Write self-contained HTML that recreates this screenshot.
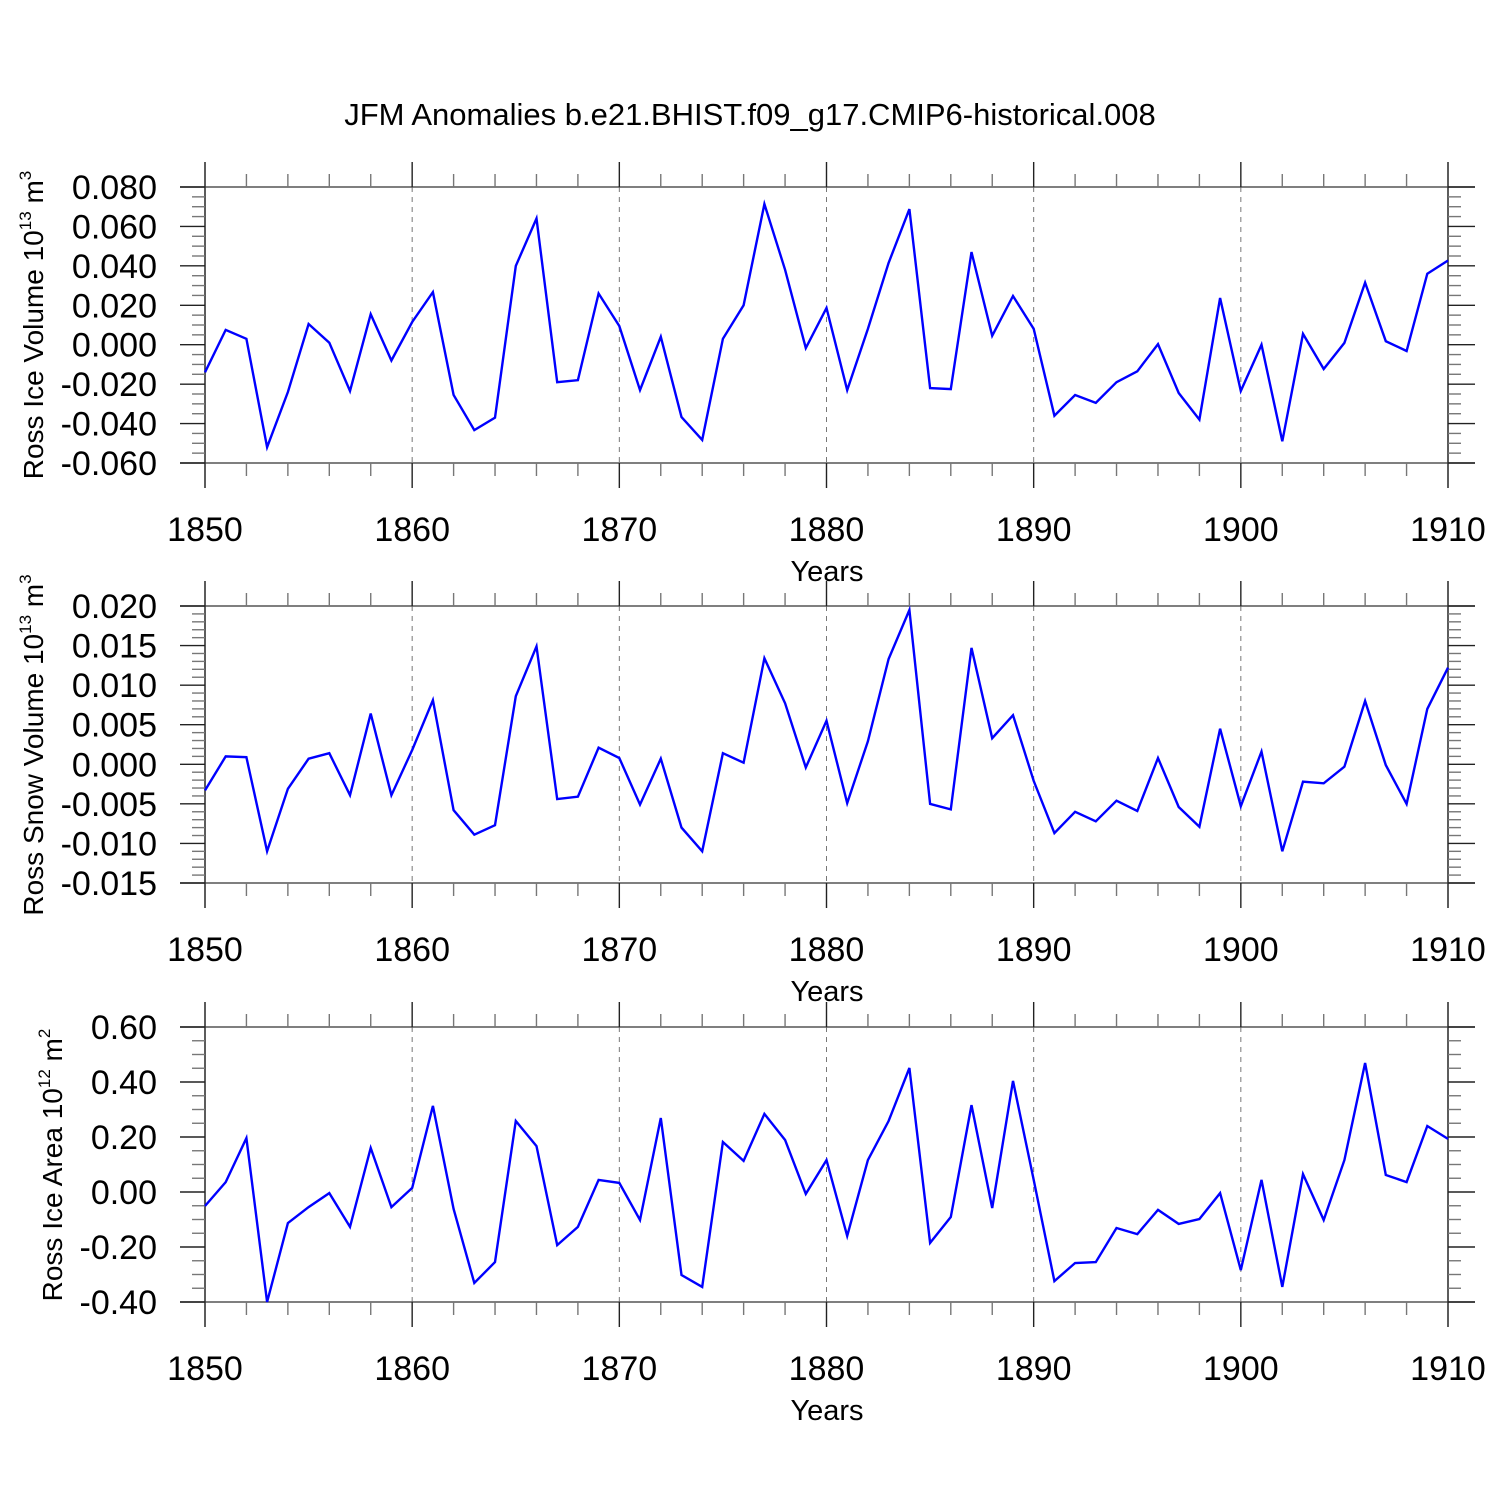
<!DOCTYPE html>
<html><head><meta charset="utf-8"><style>
body{margin:0;background:#fff}
svg{display:block}
text{font-family:"Liberation Sans",sans-serif;fill:#000}
</style></head><body>
<svg id="chart" width="1500" height="1500" viewBox="0 0 1500 1500" xmlns="http://www.w3.org/2000/svg">
<text x="750" y="125" font-size="31" text-anchor="middle">JFM Anomalies b.e21.BHIST.f09_g17.CMIP6-historical.008</text>
</svg>
<script>
const years = [];
for (let y = 1850; y <= 1910; y++) years.push(y);
const iceVolume = [-0.014,0.0075,0.003,-0.052,-0.024,0.0105,0.001,-0.0235,0.0155,-0.008,0.0115,0.0267,-0.0255,-0.0433,-0.037,0.040,0.064,-0.019,-0.018,0.026,0.0095,-0.023,0.004,-0.0367,-0.0483,0.003,0.020,0.0714,0.038,-0.0017,0.0186,-0.023,0.008,0.0415,0.0688,-0.022,-0.0225,0.047,0.0045,0.0247,0.008,-0.036,-0.0255,-0.0295,-0.019,-0.0135,0.0003,-0.0245,-0.038,0.0237,-0.0235,0,-0.049,0.0055,-0.0123,0.0009,0.0315,0.0018,-0.0032,0.036,0.0427];
const snowVolume = [-0.0033,0.0010,0.0009,-0.011,-0.0031,0.0007,0.0014,-0.0039,0.0064,-0.0039,0.0018,0.0081,-0.0058,-0.0089,-0.0077,0.0086,0.0149,-0.0044,-0.0041,0.0021,0.0008,-0.0051,0.0007,-0.008,-0.011,0.0014,0.0002,0.0134,0.0077,-0.0004,0.0055,-0.0049,0.0029,0.0133,0.0195,-0.005,-0.0057,0.0147,0.0033,0.0062,-0.0021,-0.0087,-0.006,-0.0072,-0.0046,-0.0059,0.0008,-0.0054,-0.0079,0.0045,-0.0053,0.0016,-0.011,-0.0022,-0.0024,-0.0003,0.008,-0.0001,-0.005,0.007,0.0122];
const iceArea = [-0.051,0.036,0.196,-0.40,-0.113,-0.055,-0.004,-0.127,0.16,-0.055,0.015,0.313,-0.062,-0.331,-0.255,0.258,0.167,-0.193,-0.127,0.044,0.033,-0.102,0.269,-0.302,-0.345,0.182,0.113,0.284,0.189,-0.007,0.116,-0.16,0.116,0.258,0.451,-0.185,-0.091,0.316,-0.058,0.404,0.044,-0.324,-0.258,-0.255,-0.131,-0.153,-0.065,-0.116,-0.098,-0.004,-0.284,0.044,-0.345,0.065,-0.102,0.116,0.469,0.062,0.036,0.240,0.193];
const xTickLabels = ["1850","1860","1870","1880","1890","1900","1910"];
const iceVolTicks = ["0.080","0.060","0.040","0.020","0.000","-0.020","-0.040","-0.060"];
const snowVolTicks = ["0.020","0.015","0.010","0.005","0.000","-0.005","-0.010","-0.015"];
const areaTicks = ["0.60","0.40","0.20","0.00","-0.20","-0.40"];

const NS = "http://www.w3.org/2000/svg";
const svg = document.getElementById('chart');
function mk(tag, attrs, parent){const e=document.createElementNS(NS,tag);for(const k in attrs)e.setAttribute(k,attrs[k]);(parent||svg).appendChild(e);return e;}

const X0=205, X1=1448, FL=180, FR=1475;
function xScale(yr){return X0+(yr-1850)*(X1-X0)/60;}

function panel(key, top, bottom, ticks, minorPer, values, titleParts, titleY, titleX){
  const g = mk('g',{});
  
  
  const vmax=parseFloat(ticks[0]), vmin=parseFloat(ticks[ticks.length-1]);
  const yScale=v=>top+(vmax-v)*(bottom-top)/(vmax-vmin);
  for(let yr=1860; yr<=1900; yr+=10){
    mk('line',{x1:xScale(yr),x2:xScale(yr),y1:top,y2:bottom,stroke:'#777','stroke-width':1,'stroke-dasharray':'5,5'},g);
  }
  mk('line',{x1:FL,x2:FR,y1:top,y2:top,stroke:'#555','stroke-width':1.6},g);
  mk('line',{x1:FL,x2:FR,y1:bottom,y2:bottom,stroke:'#555','stroke-width':1.6},g);
  mk('line',{x1:X0,x2:X0,y1:top-25,y2:bottom+25,stroke:'#333','stroke-width':1.6},g);
  mk('line',{x1:X1,x2:X1,y1:top-25,y2:bottom+25,stroke:'#333','stroke-width':1.6},g);
  for(let yr=1852; yr<1910; yr+=2){
    const major = yr%10===0;
    const L = major?25:13;
    const x=xScale(yr);
    mk('line',{x1:x,x2:x,y1:top-L,y2:top,stroke:major?'#222':'#777','stroke-width':1.4},g);
    mk('line',{x1:x,x2:x,y1:bottom,y2:bottom+L,stroke:major?'#222':'#777','stroke-width':1.4},g);
  }
  const step=(vmax-vmin)/(ticks.length-1);
  for(let i=0;i<ticks.length;i++){
    const v=vmax-i*step, y=yScale(v);
    mk('line',{x1:FL,x2:X0,y1:y,y2:y,stroke:'#222','stroke-width':1.4},g);
    mk('line',{x1:X1,x2:FR,y1:y,y2:y,stroke:'#222','stroke-width':1.4},g);
    const t=mk('text',{x:157,y:y+12,'font-size':34,'text-anchor':'end'},g);
    t.textContent=ticks[i];
    
    
    if(i<ticks.length-1){
      for(let m=1;m<=minorPer;m++){
        const ym=yScale(v-step*m/(minorPer+1));
        mk('line',{x1:X0-13,x2:X0,y1:ym,y2:ym,stroke:'#777','stroke-width':1.4},g);
        mk('line',{x1:X1,x2:X1+13,y1:ym,y2:ym,stroke:'#777','stroke-width':1.4},g);
      }
    }
  }
  xTickLabels.forEach(l=>{
    const t=mk('text',{x:xScale(+l),y:bottom+78,'font-size':34,'text-anchor':'middle'},g);
    t.textContent=l;
    
    
  });
  const xt=mk('text',{x:827,y:bottom+118,'font-size':29,'text-anchor':'middle'},g);
  xt.textContent='Years';
  
  
  const yt=mk('text',{x:0,y:0,'font-size':28,'text-anchor':'middle',transform:`translate(${titleX},${titleY}) rotate(-90)`},g);
  
  
  const s1=mk('tspan',{},yt); s1.textContent=titleParts[0];
  const s2=mk('tspan',{'font-size':17,dy:-12},yt); s2.textContent=titleParts[1];
  const s3=mk('tspan',{dy:12},yt); s3.textContent=' m';
  const s4=mk('tspan',{'font-size':17,dy:-12},yt); s4.textContent=titleParts[2];
  const pts=values.map((v,i)=>xScale(years[i]).toFixed(1)+','+yScale(v).toFixed(1)).join(' ');
  const pl=mk('polyline',{points:pts,fill:'none',stroke:'#0000ff','stroke-width':2.4,'stroke-linejoin':'miter'},g);
  
  
}
panel('ice-volume',187,463,iceVolTicks,3,iceVolume,['Ross Ice Volume 10','13','3'],325,43);
panel('snow-volume',606,883,snowVolTicks,4,snowVolume,['Ross Snow Volume 10','13','3'],745,43);
panel('ice-area',1027,1302,areaTicks,3,iceArea,['Ross Ice Area 10','12','2'],1165,62);
</script>
</body></html>
